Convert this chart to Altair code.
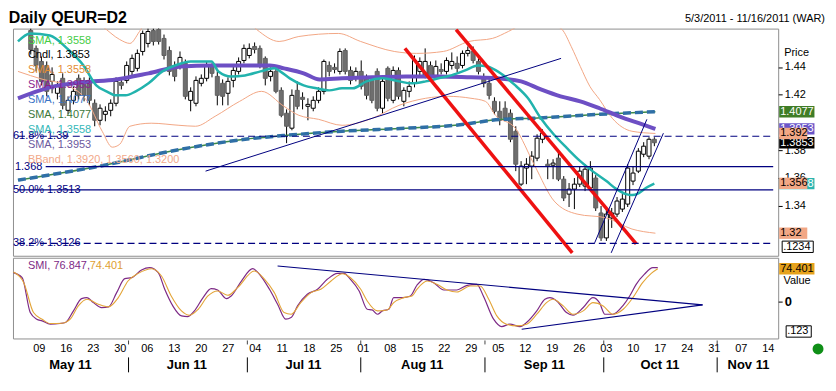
import altair as alt
import pandas as pd

FONT = "Liberation Sans"
NAVY = "#000080"

# x = trading-day index (0 = Mon 2 May 2011, 120 = Mon 17 Oct 2011)
candle_idx = list(range(3, 121))
opens = [
    1.4663, 1.4534, 1.4440, 1.4411, 1.4296, 1.4210, 1.4318, 1.4087, 1.4159, 1.4318,
    1.4296, 1.4296, 1.4138, 1.4015, 1.4058, 1.4087, 1.4138, 1.4289, 1.4303, 1.4368,
    1.4390, 1.4512, 1.4570, 1.4663, 1.4670, 1.4606, 1.4519, 1.4411, 1.4411, 1.4426,
    1.4159, 1.4138, 1.4282, 1.4318, 1.4404, 1.4332, 1.4282, 1.4210, 1.4303, 1.4368,
    1.4447, 1.4483, 1.4548, 1.4534, 1.4462, 1.4332, 1.4368, 1.4231, 1.4066, 1.3958,
    1.4231, 1.4181, 1.4116, 1.4102, 1.4159, 1.4224, 1.4411, 1.4397, 1.4368, 1.4519,
    1.4375, 1.4318, 1.4368, 1.4318, 1.4303, 1.4368, 1.4102, 1.4390, 1.4159, 1.4375,
    1.4152, 1.4224, 1.4282, 1.4368, 1.4339, 1.4411, 1.4339, 1.4382, 1.4368, 1.4411,
    1.4426, 1.4411, 1.4498, 1.4512, 1.4440, 1.4318, 1.4282, 1.4152, 1.4080, 1.4102,
    1.4066, 1.3936, 1.3554, 1.3670, 1.3684, 1.3742, 1.3878, 1.3698, 1.3691, 1.3742,
    1.3590, 1.3482, 1.3518, 1.3554, 1.3540, 1.3526, 1.3598, 1.3346, 1.3166, 1.3310,
    1.3338, 1.3374, 1.3410, 1.3576, 1.3648, 1.3770, 1.3756, 1.3878,
]
highs = [
    1.4678, 1.4555, 1.4476, 1.4440, 1.4397, 1.4296, 1.4354, 1.4188, 1.4260, 1.4346,
    1.4325, 1.4325, 1.4166, 1.4130, 1.4116, 1.4166, 1.4325, 1.4310, 1.4440, 1.4490,
    1.4526, 1.4663, 1.4678, 1.4678, 1.4700, 1.4634, 1.4548, 1.4440, 1.4512, 1.4454,
    1.4253, 1.4332, 1.4346, 1.4440, 1.4426, 1.4368, 1.4310, 1.4325, 1.4404, 1.4469,
    1.4562, 1.4570, 1.4577, 1.4555, 1.4476, 1.4397, 1.4397, 1.4253, 1.4094, 1.4238,
    1.4296, 1.4217, 1.4174, 1.4188, 1.4253, 1.4454, 1.4440, 1.4426, 1.4534, 1.4534,
    1.4404, 1.4397, 1.4447, 1.4346, 1.4332, 1.4390, 1.4325, 1.4404, 1.4404, 1.4397,
    1.4253, 1.4296, 1.4483, 1.4469, 1.4534, 1.4440, 1.4447, 1.4426, 1.4469, 1.4505,
    1.4476, 1.4519, 1.4548, 1.4548, 1.4462, 1.4354, 1.4310, 1.4181, 1.4152, 1.4152,
    1.4094, 1.3972, 1.3720, 1.3742, 1.3792, 1.3914, 1.3950, 1.3734, 1.3734, 1.3792,
    1.3612, 1.3562, 1.3598, 1.3684, 1.3698, 1.3720, 1.3619, 1.3396, 1.3374, 1.3382,
    1.3461, 1.3482, 1.3698, 1.3684, 1.3814, 1.3857, 1.3893, 1.3893,
]
lows = [
    1.4490, 1.4368, 1.4267, 1.4188, 1.4210, 1.4166, 1.4094, 1.4058, 1.4130, 1.4166,
    1.4152, 1.4123, 1.3972, 1.3979, 1.4008, 1.4044, 1.4116, 1.4238, 1.4282, 1.4339,
    1.4368, 1.4483, 1.4541, 1.4555, 1.4562, 1.4454, 1.4339, 1.4296, 1.4382, 1.4166,
    1.4080, 1.4116, 1.4260, 1.4296, 1.4325, 1.4123, 1.4123, 1.4123, 1.4253, 1.4346,
    1.4426, 1.4462, 1.4498, 1.4390, 1.4267, 1.4296, 1.4210, 1.4037, 1.3850, 1.3943,
    1.4094, 1.4094, 1.4015, 1.4080, 1.4138, 1.4202, 1.4332, 1.4354, 1.4346, 1.4346,
    1.4274, 1.4296, 1.4238, 1.4166, 1.4138, 1.4080, 1.4066, 1.4152, 1.4138, 1.4166,
    1.4116, 1.4181, 1.4253, 1.4339, 1.4318, 1.4310, 1.4318, 1.4346, 1.4346, 1.4382,
    1.4361, 1.4390, 1.4476, 1.4426, 1.4346, 1.4253, 1.4166, 1.4058, 1.3979, 1.4008,
    1.3857, 1.3648, 1.3540, 1.3554, 1.3590, 1.3720, 1.3850, 1.3590, 1.3590, 1.3576,
    1.3432, 1.3389, 1.3374, 1.3533, 1.3504, 1.3504, 1.3360, 1.3144, 1.3144, 1.3238,
    1.3317, 1.3353, 1.3389, 1.3547, 1.3634, 1.3749, 1.3734, 1.3828,
]
closes = [
    1.4526, 1.4411, 1.4296, 1.4224, 1.4346, 1.4260, 1.4123, 1.4159, 1.4224, 1.4195,
    1.4195, 1.4159, 1.4015, 1.4102, 1.4080, 1.4138, 1.4296, 1.4267, 1.4411, 1.4462,
    1.4498, 1.4642, 1.4656, 1.4584, 1.4584, 1.4483, 1.4368, 1.4332, 1.4469, 1.4188,
    1.4224, 1.4303, 1.4318, 1.4411, 1.4354, 1.4195, 1.4188, 1.4296, 1.4375, 1.4440,
    1.4534, 1.4534, 1.4526, 1.4411, 1.4318, 1.4368, 1.4224, 1.4051, 1.3972, 1.4195,
    1.4116, 1.4166, 1.4130, 1.4159, 1.4224, 1.4440, 1.4368, 1.4382, 1.4512, 1.4368,
    1.4303, 1.4368, 1.4260, 1.4195, 1.4159, 1.4102, 1.4296, 1.4174, 1.4375, 1.4188,
    1.4231, 1.4260, 1.4447, 1.4440, 1.4440, 1.4339, 1.4404, 1.4368, 1.4447, 1.4440,
    1.4390, 1.4498, 1.4519, 1.4447, 1.4368, 1.4282, 1.4195, 1.4080, 1.4015, 1.4030,
    1.3878, 1.3698, 1.3684, 1.3698, 1.3756, 1.3886, 1.3922, 1.3684, 1.3706, 1.3590,
    1.3454, 1.3518, 1.3554, 1.3648, 1.3662, 1.3670, 1.3382, 1.3166, 1.3338, 1.3346,
    1.3432, 1.3446, 1.3670, 1.3634, 1.3792, 1.3828, 1.3878, 1.3853,
]

# indicator lines
teal_idx = [0.6, 2.9, 6.6, 9.8, 12.9, 15.3, 17.2, 19.0, 20.8, 22.7, 25.1, 27.7, 30.1, 33.0, 36.9,
            38.2, 40.6, 43.2, 46.1, 48.7, 49.8, 51.6, 54.2, 56.6, 59.0, 61.4, 63.4, 66.0, 69.0, 72.1,
            74.5, 77.1, 79.5, 81.9, 84.5, 86.9, 88.7, 90.6, 93.7, 96.3, 98.7, 101.1, 103.6, 106.1,
            108.4, 111.0, 112.9, 114.7, 115.8, 117.1, 118.4, 120.0]
teal_val = [1.4584, 1.4642, 1.4627, 1.4534, 1.4411, 1.4267, 1.4224, 1.4195, 1.4195, 1.4224, 1.4282,
            1.4368, 1.4411, 1.4440, 1.4440, 1.4368, 1.4332, 1.4339, 1.4368, 1.4390, 1.4368, 1.4318,
            1.4267, 1.4246, 1.4231, 1.4246, 1.4246, 1.4296, 1.4318, 1.4296, 1.4282, 1.4296, 1.4318,
            1.4339, 1.4375, 1.4411, 1.4404, 1.4368, 1.4274, 1.4174, 1.4030, 1.3914, 1.3814, 1.3720,
            1.3648, 1.3576, 1.3518, 1.3482, 1.3475, 1.3490, 1.3526, 1.3558]
purple_idx = [0.6, 6.6, 12.9, 19.0, 25.1, 31.2, 36.9, 43.2, 47.9, 50.5, 54.2, 57.2, 61.4, 67.1,
              73.4, 79.5, 85.6, 90.6, 95.0, 98.7, 102.4, 106.1, 109.7, 113.4, 117.1, 120.2]
purple_val = [1.4174, 1.4253, 1.4289, 1.4310, 1.4354, 1.4404, 1.4411, 1.4411, 1.4411, 1.4390,
              1.4354, 1.4310, 1.4318, 1.4325, 1.4332, 1.4332, 1.4325, 1.4318, 1.4296, 1.4238,
              1.4188, 1.4152, 1.4102, 1.4044, 1.3994, 1.3953]
long_idx = [0.6, 15.9, 31.2, 43.2, 51.1, 61.4, 73.4, 82.6, 91.3, 97.4, 109.7, 120.2]
long_val = [1.3583, 1.3684, 1.3806, 1.3878, 1.3907, 1.3936, 1.3958, 1.3979, 1.4022, 1.4030, 1.4058, 1.4077]
bb_up_idx = [0.6, 9.0, 16.4, 19.7, 21.6, 23.4, 25.6, 34.9, 42.2, 45.4, 49.6, 53.3, 60.7, 64.9, 71.2,
             75.4, 80.4, 85.2, 89.6, 92.6, 95.7, 99.5, 101.2, 102.7, 104.4, 106.1, 107.9, 109.7,
             112.1, 115.8, 120.2]
bb_up_val = [1.4836, 1.4800, 1.4692, 1.4598, 1.4570, 1.4656, 1.4786, 1.4858, 1.4786, 1.4670, 1.4584,
             1.4620, 1.4642, 1.4584, 1.4512, 1.4498, 1.4512, 1.4584, 1.4606, 1.4656, 1.4714, 1.4730,
             1.4700, 1.4670, 1.4548, 1.4404, 1.4260, 1.4166, 1.4030, 1.3936, 1.3920]
bb_lo_idx = [0.6, 5.3, 9.8, 13.6, 16.4, 18.3, 19.7, 21.6, 25.6, 30.8, 33.9, 37.6, 42.2, 46.3, 50.5,
             53.3, 57.0, 61.4, 67.1, 72.1, 77.1, 81.3, 85.6, 88.3, 90.2, 93.9, 97.6, 101.2, 105.5,
             111.0, 115.8, 120.2]
bb_lo_val = [1.4368, 1.4310, 1.4267, 1.4152, 1.3936, 1.3821, 1.3842, 1.3972, 1.3994, 1.3979, 1.3972,
             1.4044, 1.4152, 1.4224, 1.4116, 1.4051, 1.4022, 1.3979, 1.4030, 1.4123, 1.4174, 1.4188,
             1.4174, 1.4152, 1.4051, 1.3958, 1.3684, 1.3432, 1.3338, 1.3310, 1.3230, 1.3200]

# drawn trendlines (idx, price) pairs
red_a = ([73.2, 104.6], [1.4534, 1.3058])
red_b = ([82.8, 116.6], [1.4670, 1.3122])
navy_long = ([35.8, 102.5], [1.3648, 1.4462])
navy_c = ([108.8, 118.6], [1.3130, 1.4022])
navy_d = ([111.9, 121.7], [1.3058, 1.3922])

# SMI panel
smi_idx = [0.7, 2.3, 3.8, 5.0, 6.0, 7.5, 9.3, 10.3, 11.8, 13.3, 14.3, 15.5, 17.0, 18.3, 19.8, 21.3,
           22.6, 24.4, 25.9, 27.5, 28.7, 30.2, 31.8, 33.0, 34.2, 35.8, 37.3, 38.5, 40.1, 41.0, 42.9,
           45.0, 46.5, 48.1, 49.6, 51.1, 52.1, 53.3, 55.1, 57.0, 58.8, 60.7, 61.9, 63.1, 64.7, 66.2,
           67.1, 68.1, 69.0, 70.2, 71.1, 72.7, 74.2, 75.4, 76.7, 78.5, 80.4, 82.8, 84.7, 86.5, 87.7,
           89.6, 91.1, 92.6, 94.5, 95.7, 97.6, 99.1, 100.0, 101.3, 103.1, 104.3, 106.2, 108.0, 109.2,
           110.2, 111.7, 113.6, 114.8, 116.0, 117.5, 119.1, 120.0]
smi_val = [65.4, 54.1, -24.8, -39.8, -43.6, -51.1, -49.6, -47.4, -21.0, 6.8, 9.0, -2.3, -13.5, -12.0,
           20.3, 51.9, 54.1, 71.4, 76.7, 65.4, 27.8, -9.8, -32.3, -33.8, -21.0, 9.0, 29.3, 26.3, 6.8,
           12.8, 46.6, 74.4, 57.9, 27.8, -6.0, -39.8, -36.1, -9.8, 16.5, 27.8, 50.4, 63.9, 63.9, 50.4,
           24.1, -17.3, -18.8, -28.6, -21.0, -17.3, 9.0, 9.0, 12.8, 37.0, 50.4, 42.8, 26.3, 26.3, 36.8,
           39.1, 12.8, -39.8, -56.4, -51.1, -56.4, -47.4, -21.0, 5.3, 9.0, 1.5, -24.8, -30.8, -13.5,
           9.0, -2.3, -28.6, -28.6, -8.3, 12.8, 39.1, 61.6, 76.7, 76.8]
sig_idx = [0.7, 2.6, 4.4, 6.0, 7.5, 9.7, 11.2, 12.7, 14.3, 16.4, 18.3, 20.1, 21.9, 23.8, 26.3, 28.1,
           29.9, 31.8, 33.3, 34.9, 36.7, 38.5, 40.4, 42.2, 45.3, 47.2, 49.0, 50.8, 52.1, 53.9, 55.8,
           57.6, 59.5, 61.6, 63.1, 65.0, 66.2, 68.1, 69.9, 71.1, 73.0, 74.5, 75.4, 77.3, 79.1, 81.0,
           82.8, 85.3, 87.1, 88.7, 90.2, 92.0, 93.9, 95.7, 97.6, 99.4, 100.6, 102.5, 104.3, 106.2,
           108.0, 109.9, 111.7, 113.6, 115.4, 117.2, 118.8, 120.0]
sig_val = [66.9, 42.8, -24.8, -39.8, -49.6, -48.9, -39.8, -9.8, 5.3, -6.0, -12.0, 9.0, 46.6, 63.9,
           74.4, 57.9, 12.8, -21.0, -30.8, -17.3, 12.8, 24.1, 14.3, 31.6, 69.2, 50.4, 20.3, -24.8,
           -28.6, -2.3, 20.3, 27.8, 46.6, 63.1, 54.1, 27.8, 1.5, -21.0, -18.8, -2.3, 9.0, 12.8, 27.8,
           46.6, 39.1, 26.3, 21.8, 35.3, 35.3, 5.3, -32.3, -51.1, -54.9, -51.1, -28.6, -2.3, 5.3, -9.8,
           -28.6, -21.0, -2.3, -9.8, -28.6, -17.3, 9.0, 42.8, 63.9, 74.4]
smi_top = ([49.6, 128.3], [80.5, -7.4])
smi_bot = ([94.8, 128.3], [-62.5, -7.4])

# axis labels
week_idx = [5, 10, 15, 20, 25, 30, 35, 40, 45, 50, 55, 60, 65, 70, 75, 80, 85, 90, 95, 100,
            105, 110, 115, 120, 125, 130, 135, 140]
day_labels = ["09", "16", "23", "30", "06", "13", "20", "27", "04", "11", "18", "25", "01", "08",
              "15", "22", "29", "05", "12", "19", "26", "03", "10", "17", "24", "31", "07", "14"]
month_names = ["May 11", "Jun 11", "Jul 11", "Aug 11", "Sep 11", "Oct 11", "Nov 11"]
month_center = [11.25, 32.8, 54.4, 76.4, 99.0, 120.4, 136.8]
month_start = [22, 44, 65, 88, 110, 131]
price_ticks = [1.34, 1.36, 1.38, 1.42, 1.44]

W, H1, H2 = 768, 228, 81
xs = alt.Scale(domain=[0.6, 142.3], nice=False, zero=False)
ys = alt.Scale(domain=[1.3037, 1.4677], nice=False, zero=False)
ss = alt.Scale(domain=[-83.4, 99.2], nice=False, zero=False)

price_axis = alt.Axis(orient="right", values=price_ticks, format=".2f",
                      labelFont=FONT, labelFontSize=11, labelColor="black", tickColor="black",
                      tickSize=4, labelPadding=2, domain=False, grid=False, title=None)
label_expr = "[" + ",".join("'%s'" % d for d in day_labels) + "][round(datum.value/5)-1]"
x_axis = alt.Axis(values=week_idx, labelExpr=label_expr, ticks=False, tickSize=0, domain=False,
                  grid=False, labelFont=FONT, labelFontSize=11, labelColor="black",
                  labelPadding=4, labelOffset=2, labelFlush=False, labelOverlap=False, title=None)
smi_axis = alt.Axis(orient="right", values=[0], labelFont=FONT, labelFontSize=13,
                    labelFontWeight="bold", labelColor="black", tickColor="black", tickSize=4,
                    labelPadding=2, domain=False, grid=False, title=None)

PANEL = {"top": (alt.X("idx:Q", scale=xs, axis=None), ys, price_axis),
         "bot": (alt.X("idx:Q", scale=xs, axis=x_axis), ss, smi_axis)}


def Y(field, panel):
    return alt.Y(field, scale=PANEL[panel][1], axis=PANEL[panel][2])


def one(**cols):
    return pd.DataFrame({k: [v] for k, v in cols.items()})


def line(idx, vals, color, width, panel, dash=None, interp="monotone"):
    kw = dict(color=color, strokeWidth=width, clip=True, interpolate=interp)
    if dash:
        kw["strokeDash"] = dash
    df = pd.DataFrame({"idx": idx, "v": vals})
    return alt.Chart(df).mark_line(**kw).encode(x=PANEL[panel][0], y=Y("v:Q", panel))


def text_at(t, x, y, color="black", size=11, weight="normal", align="left", baseline="middle"):
    return alt.Chart(one(t=t)).mark_text(
        font=FONT, fontSize=size, fontWeight=weight, color=color, align=align, baseline=baseline
    ).encode(text="t:N", x=alt.value(x), y=alt.value(y))


def value_box(label, v, fill, tcolor, shape, panel):
    d = one(t=label, v=v)
    b = alt.Chart(d).mark_point(shape=shape, size=144, filled=True, fill=fill, opacity=1,
                                strokeWidth=0).encode(x=alt.value(W + 1), y=Y("v:Q", panel))
    t = alt.Chart(d).mark_text(font=FONT, fontSize=11, color=tcolor, align="left",
                               baseline="middle").encode(
        text="t:N", x=alt.value(W + 2), y=Y("v:Q", panel))
    return [b, t]


WIDE = "M0,-0.95L5.9,-0.95L5.9,0.95L0,0.95Z"
NARROW = "M0,-0.95L4.7,-0.95L4.7,0.95L0,0.95Z"

# ---------------- price panel ----------------
df_c = pd.DataFrame({"idx": candle_idx, "open": opens, "high": highs, "low": lows, "close": closes})
XT = PANEL["top"][0]
wicks = alt.Chart(df_c).mark_rule(color="black", strokeWidth=1, clip=True).encode(
    x=XT, y=Y("low:Q", "top"), y2="high:Q")
bodies = alt.Chart(df_c).transform_calculate(up="datum.close >= datum.open").mark_bar(
    size=4, clip=True, strokeWidth=1).encode(
    x=XT, y=Y("open:Q", "top"), y2="close:Q",
    fill=alt.condition("datum.up", alt.value("white"), alt.value("#6e6e6e")),
    stroke=alt.condition("datum.up", alt.value("black"), alt.value("#5f5f5f")))

salmon = "#f2a785"
layers = [wicks, bodies,
          line(bb_up_idx, bb_up_val, salmon, 1, "top"),
          line(bb_lo_idx, bb_lo_val, salmon, 1, "top"),
          line(long_idx, long_val, "#3c8a4a", 1.5, "top"),
          line(long_idx, long_val, "#2f6fa6", 3.5, "top", dash=[8, 4]),
          line(purple_idx, purple_val, "#6d4fc4", 4, "top"),
          line(teal_idx, teal_val, "#22b3ad", 2.5, "top")]
for (ix, vv), col, wd in [(red_a, "#ee1111", 3.5), (red_b, "#ee1111", 3.5),
                          (navy_long, NAVY, 1), (navy_c, NAVY, 1), (navy_d, NAVY, 1)]:
    layers.append(line(ix, vv, col, wd, "top", interp="linear"))

# horizontal levels
lvl_start = [0.6, 5.8, 0.6, 0.6]
lvl_y = [1.39, 1.368, 1.3513, 1.3126]
lvl_dashed = [True, False, False, True]
for xa, yv, dsh in zip(lvl_start, lvl_y, lvl_dashed):
    kw = dict(color=NAVY, strokeWidth=1.2)
    if dsh:
        kw["strokeDash"] = [7, 4]
    layers.append(alt.Chart(one(x1=xa, x2=142.3, y=yv)).mark_rule(**kw).encode(
        x=alt.X("x1:Q", scale=xs, axis=None), x2="x2:Q", y=Y("y:Q", "top")))
fib_text = ["61.8%   1.39", "1.368", "50.0%   1.3513", "38.2%   1.3126"]
fib_x = [0, 2, 0, 0]
for t, v, xx in zip(fib_text, lvl_y, fib_x):
    layers.append(alt.Chart(one(t=t, v=v)).mark_text(
        font=FONT, fontSize=11, color=NAVY, align="left", baseline="middle").encode(
        text="t:N", x=alt.value(xx), y=Y("v:Q", "top")))

legend_text = ["SMA, 1.3558", "Cndl, 1.3853", "SMA, 1.3558", "SMA, 1.3953", "SMA, 1.4077",
               "SMA, 1.4077", "SMA, 1.3558", "SMA, 1.3953", "BBand, 1.3920, 1.3560, 1.3200"]
legend_color = ["#44cc44", "#000000", "#e38d35", "#8a1f8e", "#3a74c6", "#3b773b", "#33b8b8",
                "#6b5a9e", "#f2a98a"]
for i, (t, c) in enumerate(zip(legend_text, legend_color)):
    layers.append(text_at(t, 15, 12 + 15 * i, color=c))

# right-hand value boxes
box_label = ["1.4077", "1.3953", "1.3853", "1.3558", "1.392", "1.356", "1.32"]
box_value = [1.4077, 1.3953, 1.3853, 1.3558, 1.392, 1.356, 1.32]
box_fill = ["#3f7d26", "#6a55c8", "#000000", "#2ab5b0", salmon, salmon, salmon]
box_tcol = ["white", "white", "white", "white", "black", "black", "black"]
box_wide = [True, True, True, True, False, False, False]
for lab, v, f, tc, wd in zip(box_label, box_value, box_fill, box_tcol, box_wide):
    layers += value_box(lab, v, f, tc, WIDE if wd else NARROW, "top")
layers.append(alt.Chart(one(t=".1234")).mark_point(
    shape="M0,-0.95L5.2,-0.95L5.2,0.95L0,0.95Z", size=144, filled=True, fill="white",
    stroke="black", strokeWidth=1, opacity=1).encode(x=alt.value(W + 4), y=alt.value(219)))
layers.append(text_at(".1234", W + 5, 219))
layers.append(text_at("Price", W + 6, 25))
layers.append(text_at("Daily QEUR=D2", -4.3, -19, size=16, weight="bold", baseline="top"))
layers.append(text_at("5/3/2011 - 11/16/2011 (WAR)", W + 47, -10, align="right"))

top = alt.layer(*layers).properties(width=W, height=H1)

# ---------------- SMI panel ----------------
XB = PANEL["bot"][0]
blayers = [line(smi_idx, smi_val, "#7d2a86", 1.2, "bot"),
           line(sig_idx, sig_val, "#e3a437", 1.1, "bot"),
           line(smi_top[0], smi_top[1], NAVY, 1.2, "bot", interp="linear"),
           line(smi_bot[0], smi_bot[1], NAVY, 1.2, "bot", interp="linear"),
           text_at("SMI, 76.847,", 15, 8, color="#7d2a86"),
           text_at("74.401", 77, 8, color="#e0a030")]
blayers += value_box("74.401", 74.4, "#e6a21c", "black", WIDE, "bot")
blayers.append(text_at("Value", W + 19, 23, align="center"))
blayers.append(alt.Chart(one(t=".123")).mark_point(
    shape="M0,-0.95L4.2,-0.95L4.2,0.95L0,0.95Z", size=144, filled=True, fill="white",
    stroke="black", strokeWidth=1, opacity=1).encode(x=alt.value(W + 8), y=alt.value(74)))
blayers.append(text_at(".123", W + 9, 74))
blayers.append(alt.Chart(one(t="o")).mark_point(shape="circle", size=120, filled=True,
                                                color="#0f8f17", opacity=1).encode(
    x=alt.value(W + 40), y=alt.value(H2 + 10.5)))

mdf = pd.DataFrame({"idx": month_center, "t": month_names})
blayers.append(alt.Chart(mdf).mark_text(font=FONT, fontSize=13, fontWeight="bold", color="black",
                                        baseline="middle").encode(
    x=XB, text="t:N", y=alt.value(H2 + 27)))
sdf = pd.DataFrame({"idx": month_start})
blayers.append(alt.Chart(sdf).mark_rule(color="black", strokeWidth=1).encode(
    x=XB, y=alt.value(H2 + 19), y2=alt.value(H2 + 34)))
blayers.append(alt.Chart(sdf).mark_rule(color="#444444", strokeWidth=1).encode(
    x=XB, y=alt.value(H2 + 2), y2=alt.value(H2 + 6)))

bottom = alt.layer(*blayers).properties(width=W, height=H2)

chart = alt.vconcat(top, bottom, spacing=0).properties(
    padding={"left": 0, "top": 0, "right": 2, "bottom": 2}
).configure_view(stroke="#8f8f8f", strokeWidth=1)

chart.save("out.html", embed_options={"renderer": "svg", "actions": False})
